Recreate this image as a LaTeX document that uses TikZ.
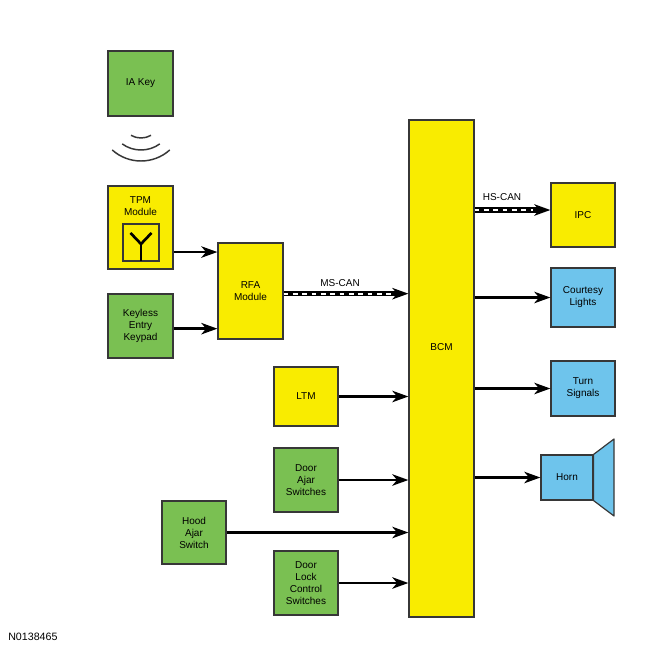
\documentclass[tikz,border=0pt]{standalone}
\usepackage{fontspec}
\setmainfont{Liberation Sans}
\usetikzlibrary{arrows.meta,calc}
\definecolor{ylw}{RGB}{249,236,0}
\definecolor{grn}{RGB}{122,192,82}
\definecolor{blu}{RGB}{110,196,236}
\definecolor{bdr}{RGB}{55,55,55}
\begin{document}
\begin{tikzpicture}[x=0.75pt,y=-0.75pt,
  sz/.style 2 args={minimum width=#1*0.75pt,minimum height=#2*0.75pt},
  box/.style={draw=bdr,line width=0.9pt,inner sep=0pt,align=center,font=\fontsize{7.5}{9}\selectfont},
  ybox/.style={box,fill=ylw},
  gbox/.style={box,fill=grn},
  bbox/.style={box,fill=blu},
  txt/.style={inner sep=0pt,align=center,font=\fontsize{7.5}{9}\selectfont},
  tip/.style={-{Stealth[length=12pt,width=8.5pt,inset=3.5pt]}},
  arr/.style={tip,line width=2.1pt},
  canbase/.style={tip,line width=4pt},
  candash/.style={white,line width=1.6pt,dash pattern=on 3.5pt off 3.5pt,shorten >=13pt},
  wave/.style={line width=1.1pt,bdr}]
\useasboundingbox[fill=white] (0,0) rectangle (650,650);

% left column
\node[gbox,sz={65}{65}] (iakey) at (140.5,83.5) {IA Key};
\coordinate (wc) at (141,118);
\draw[wave] ([shift={(240:20*0.75pt)}]wc) arc[start angle=240,end angle=300,radius=20*0.75pt];
\draw[wave] ([shift={(234:32*0.75pt)}]wc) arc[start angle=234,end angle=306,radius=32*0.75pt];
\draw[wave] ([shift={(228:43*0.75pt)}]wc) arc[start angle=228,end angle=312,radius=43*0.75pt];

\node[ybox,sz={65}{83}] (tpm) at (140.5,227.5) {};
\node[txt] (tpmlabel) at (140.5,206.5) {TPM\\Module};
\node[box,sz={36}{37}] (ant) at (141,242.5) {};
\coordinate (antj) at ($(ant.center)+(0,-1.1pt)$);
\draw[line width=2pt,black] ($(ant.south)+(0,0.8pt)$) -- (antj);
\draw[line width=2pt,black,line join=miter] ($(antj)+(-10.5*0.75pt,11*0.75pt)$) -- (antj) -- ($(antj)+(10.5*0.75pt,11*0.75pt)$);

\node[gbox,sz={65}{64}] (keyless) at (140.5,326) {Keyless\\Entry\\Keypad};
\node[ybox,sz={65}{96}] (rfa) at (250.5,291) {RFA\\Module};

\node[ybox,sz={64}{59}] (ltm) at (306,396.5) {LTM};
\node[gbox,sz={64}{64}] (doorajar) at (306,480) {Door\\Ajar\\Switches};
\node[gbox,sz={64}{63}] (hood) at (194,532.5) {Hood\\Ajar\\Switch};
\node[gbox,sz={64}{64}] (doorlock) at (306,583) {Door\\Lock\\Control\\Switches};

% BCM
\node[ybox,sz={65}{497}] (bcm) at (441.5,368.5) {};
\node[txt] (bcmlabel) at (441.5,347) {BCM};

% right column
\node[ybox,sz={64}{64}] (ipc) at (583,215) {IPC};
\node[bbox,sz={64}{59}] (courtesy) at (583,297.5) {Courtesy\\Lights};
\node[bbox,sz={64}{55}] (turn) at (583,388.5) {Turn\\Signals};
\node[bbox,sz={52}{45}] (horn) at (567,477.5) {Horn};
\coordinate (hornt) at (614,439);
\coordinate (hornb) at (614,516);
\draw[draw=bdr,line width=0.9pt,fill=blu,line join=round] (horn.north east) -- (hornt) -- (hornb) -- (horn.south east) -- cycle;

% connectors
\coordinate (tpmout) at ([yshift=-18.4pt]tpm.east);
\draw[arr] (tpmout) -- (tpmout -| rfa.west);
\coordinate (keyout) at ([yshift=-2pt]keyless.east);
\draw[arr] (keyout) -- (keyout -| rfa.west);

\coordinate (msout) at ([yshift=-2pt]rfa.east);
\draw[canbase] (msout) -- (msout -| bcm.west);
\draw[candash] (msout) -- (msout -| bcm.west);
\node[txt] (mscan) at (340,283) {MS-CAN};

\coordinate (hs) at ([yshift=3.75pt]ipc.west);
\draw[canbase] (hs -| bcm.east) -- (hs);
\draw[candash] (hs -| bcm.east) -- (hs);
\node[txt] (hscan) at (502,197) {HS-CAN};

\draw[arr] (ltm.east) -- (ltm.east -| bcm.west);
\draw[arr] (doorajar.east) -- (doorajar.east -| bcm.west);
\draw[arr] (hood.east) -- (hood.east -| bcm.west);
\draw[arr] (doorlock.east) -- (doorlock.east -| bcm.west);

\draw[arr] (bcm.east |- courtesy.west) -- (courtesy.west);
\draw[arr] (bcm.east |- turn.west) -- (turn.west);
\draw[arr] (bcm.east |- horn.west) -- (horn.west);

\node[inner sep=0pt,anchor=south west,font=\fontsize{8}{9}\selectfont] (code) at (8,641) {N0138465};
\end{tikzpicture}
\end{document}
